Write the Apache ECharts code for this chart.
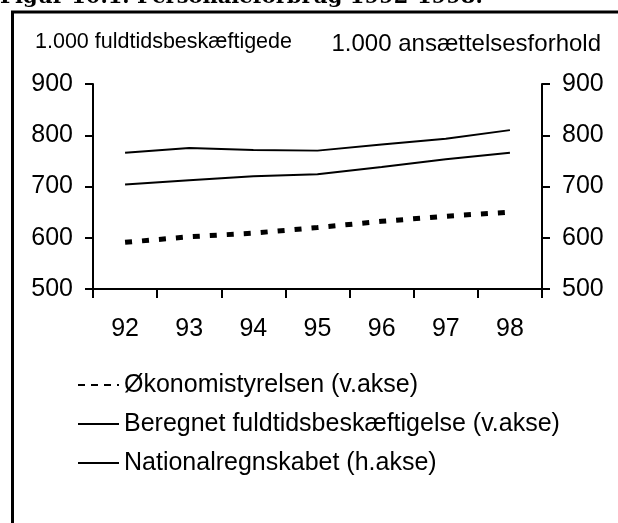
<!DOCTYPE html>
<html>
<head>
<meta charset="utf-8">
<script src="https://cdn.jsdelivr.net/npm/echarts@6/dist/echarts.min.js"></script>
<style>
  html, body { margin: 0; padding: 0; background: #fff; }
  #chart { width: 618px; height: 523px; }
</style>
</head>
<body>
<div id="chart"></div>
<script>
var years = ["92", "93", "94", "95", "96", "97", "98"];
var oekonomistyrelsen = [591, 602, 609, 620, 632, 642, 650];
var beregnet = [704, 712, 720, 724, 738, 753, 766];
var nationalregnskabet = [766, 775, 771, 770, 782, 793, 810];
var names = [
  "Økonomistyrelsen (v.akse)",
  "Beregnet fuldtidsbeskæftigelse (v.akse)",
  "Nationalregnskabet (h.akse)"
];

var font = "'Liberation Sans', sans-serif";

function valueAxis(pos) {
  return {
    type: "value",
    position: pos,
    min: 500,
    max: 900,
    interval: 100,
    axisLine: { show: true, lineStyle: { color: "#000", width: 2 } },
    axisTick: { show: true, length: 8, lineStyle: { color: "#000", width: 2 } },
    axisLabel: { margin: 20, color: "#000", fontSize: 25, fontFamily: font },
    splitLine: { show: false }
  };
}

var chart = echarts.init(document.getElementById("chart"), null, { renderer: "canvas" });
chart.setOption({
  animation: false,
  backgroundColor: "#fff",
  color: ["#000", "#000", "#000"],
  grid: { left: 93, right: 76, top: 84, bottom: 234, containLabel: false },
  xAxis: {
    type: "category",
    data: years,
    boundaryGap: true,
    axisLine: { lineStyle: { color: "#000", width: 2 } },
    axisTick: { show: true, length: 9, lineStyle: { color: "#000", width: 2 } },
    axisLabel: { margin: 28, color: "#000", fontSize: 25, fontFamily: font }
  },
  yAxis: [valueAxis("left"), valueAxis("right")],
  legend: {
    orient: "vertical",
    left: 77,
    top: 372,
    padding: 0,
    itemWidth: 41,
    itemHeight: 12,
    itemGap: 13,
    itemStyle: { opacity: 0 },
    textStyle: { color: "#000", fontSize: 25, lineHeight: 26, fontFamily: font },
    data: [
      { name: names[0], lineStyle: { width: 2, type: [7, 6], color: "#000" } },
      { name: names[1], lineStyle: { width: 2, color: "#000" } },
      { name: names[2], lineStyle: { width: 2, color: "#000" } }
    ]
  },
  series: [
    {
      name: names[0],
      type: "line",
      data: oekonomistyrelsen,
      symbol: "none",
      lineStyle: { color: "#000", width: 5, type: [7, 10], cap: "butt" }
    },
    {
      name: names[1],
      type: "line",
      data: beregnet,
      symbol: "none",
      lineStyle: { color: "#000", width: 2 }
    },
    {
      name: names[2],
      type: "line",
      yAxisIndex: 1,
      data: nationalregnskabet,
      symbol: "none",
      lineStyle: { color: "#000", width: 2 }
    }
  ],
  graphic: [
    {
      type: "polyline",
      shape: { points: [[12.5, 540], [12.5, 12], [640, 12]] },
      style: { stroke: "#000", lineWidth: 3, fill: null }
    },
    {
      type: "text",
      left: 0,
      top: -13,
      style: {
        text: "Figur 10.1. Personaleforbrug 1992-1998.",
        fill: "#000",
        font: "bold 21px 'DejaVu Serif', serif"
      }
    },
    {
      type: "text",
      left: 35,
      top: 31,
      style: {
        text: "1.000 fuldtidsbeskæftigede",
        fill: "#000",
        font: "21.5px 'Liberation Sans', sans-serif"
      }
    },
    {
      type: "text",
      right: 17,
      top: 32,
      style: {
        text: "1.000 ansættelsesforhold",
        fill: "#000",
        font: "24px 'Liberation Sans', sans-serif"
      }
    }
  ]
});
</script>
</body>
</html>
